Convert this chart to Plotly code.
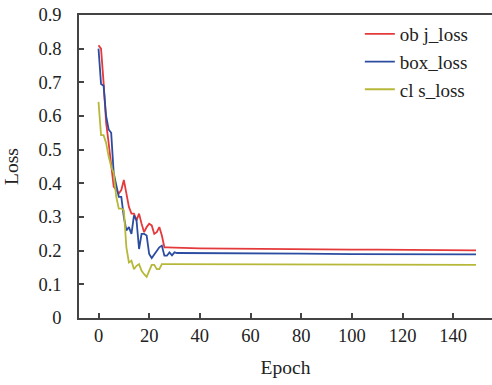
import plotly.graph_objects as go

# Epoch positions and loss values
obj_epochs = [0, 1, 2, 3, 4, 5, 6, 7, 8, 9, 10, 11, 12, 13, 14, 15, 16, 17, 18, 19,
              20, 21, 22, 23, 24, 25, 26, 27, 28, 29, 30, 40, 50, 60, 70, 80, 90,
              100, 110, 120, 130, 140, 149]
obj_loss = [0.81, 0.80, 0.70, 0.58, 0.52, 0.45, 0.39, 0.38, 0.37, 0.38, 0.41, 0.37,
            0.33, 0.31, 0.31, 0.29, 0.31, 0.28, 0.255, 0.27, 0.28, 0.275, 0.25, 0.255,
            0.27, 0.245, 0.21, 0.21, 0.21, 0.209, 0.209, 0.207, 0.206, 0.205, 0.205,
            0.204, 0.204, 0.203, 0.203, 0.202, 0.202, 0.202, 0.201]

box_epochs = [0, 1, 2, 3, 4, 5, 6, 7, 8, 9, 10, 11, 12, 13, 14, 15, 16, 17, 18, 19,
              20, 21, 22, 23, 24, 25, 26, 27, 28, 29, 30, 31, 40, 60, 80, 100, 120, 149]
box_loss = [0.80, 0.695, 0.69, 0.60, 0.56, 0.55, 0.43, 0.39, 0.36, 0.36, 0.30, 0.26,
            0.27, 0.25, 0.305, 0.29, 0.205, 0.25, 0.25, 0.245, 0.19, 0.178, 0.19, 0.20,
            0.21, 0.215, 0.185, 0.185, 0.195, 0.186, 0.195, 0.193, 0.193, 0.192, 0.191,
            0.190, 0.190, 0.189]

cls_epochs = [0, 1, 2, 3, 4, 5, 6, 7, 8, 9, 10, 11, 12, 13, 14, 15, 16, 17, 18, 19,
              20, 21, 22, 23, 24, 25, 26, 40, 60, 80, 100, 120, 149]
cls_loss = [0.642, 0.543, 0.543, 0.52, 0.48, 0.45, 0.43, 0.36, 0.325, 0.325, 0.32,
            0.21, 0.165, 0.17, 0.145, 0.155, 0.16, 0.14, 0.13, 0.122, 0.14, 0.158,
            0.158, 0.145, 0.145, 0.16, 0.16, 0.16, 0.159, 0.159, 0.159, 0.158, 0.158]

series_names = ["ob j_loss", "box_loss", "cl s_loss"]
x_ticks = [0, 20, 40, 60, 80, 100, 120, 140]
y_ticks = [0, 0.1, 0.2, 0.3, 0.4, 0.5, 0.6, 0.7, 0.8, 0.9]

colors = ["#e53a3c", "#2b4ca0", "#b7b83a"]
font_family = "Liberation Serif, Times New Roman, serif"

fig = go.Figure()
for name, xs, ys, c in zip(series_names,
                           [obj_epochs, box_epochs, cls_epochs],
                           [obj_loss, box_loss, cls_loss], colors):
    fig.add_trace(go.Scatter(x=xs, y=ys, mode="lines", name=name,
                             line=dict(color=c, width=1.8)))

axis_common = dict(showgrid=False, zeroline=False, showline=True,
                   linecolor="#444444", linewidth=1.5, ticks="inside",
                   ticklen=5, tickwidth=1.5, tickcolor="#444444",
                   automargin=False,
                   tickfont=dict(family=font_family, size=18.5, color="#222222"))

fig.update_layout(
    width=492, height=385,
    margin=dict(l=79, r=0, t=15, b=67),
    paper_bgcolor="white", plot_bgcolor="white",
    font=dict(family=font_family, size=18.5, color="#222222"),
    xaxis=dict(range=[-7.7, 155.3], tickvals=x_ticks, mirror=True,
               ticklabelstandoff=0,
               title=dict(text="Epoch", font=dict(family=font_family, size=19.5)),
               **axis_common),
    yaxis=dict(range=[0, 0.9], tickvals=y_ticks,
               ticklabelstandoff=12,
               title=dict(text="Loss", font=dict(family=font_family, size=19.5)),
               **axis_common),
    legend=dict(x=0.68, y=1.0, xanchor="left", yanchor="top",
                bgcolor="rgba(0,0,0,0)", font=dict(family=font_family, size=19),
                itemwidth=30, tracegroupgap=0),
    showlegend=True,
)

fig.write_html("out.html", config={"displayModeBar": False},
               post_script="document.body.style.margin='0';document.body.style.overflow='hidden';")
